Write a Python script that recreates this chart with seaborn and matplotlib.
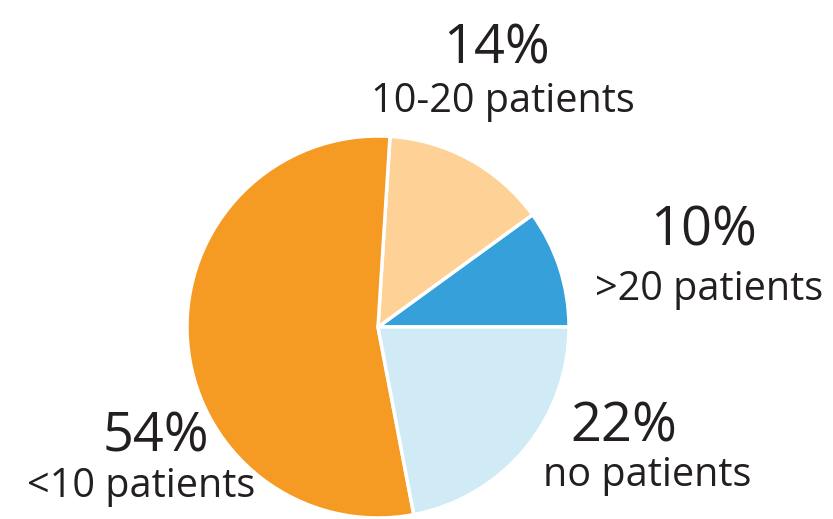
import matplotlib
matplotlib.use("Agg")
import matplotlib.pyplot as plt
import seaborn as sns

# share of sites by number of patients, counter-clockwise from 3 o'clock
categories = [">20 patients", "10-20 patients", "<10 patients", "no patients"]
shares = [10, 14, 54, 22]
colors = ["#35A0DA", "#FED197", "#F59A23", "#D0EBF5"]

# label placement in pixels from top-left: (pct x, pct baseline, name x, name baseline)
label_pos = [(704, 246, 709, 300), (497, 63, 503, 112),
             (156, 452, 141, 497), (624, 441, 647, 486)]

H = 519
sns.set_style("white")
plt.rcParams["font.family"] = ["Open Sans", "DejaVu Sans"]

fig = plt.figure(figsize=(8.33, 5.19), dpi=100)
ax = fig.add_axes([0, 0, 1, 1])

ax.pie(
    shares,
    colors=colors,
    startangle=0,
    counterclock=True,
    center=(378, H - 327),
    radius=191,
    wedgeprops=dict(edgecolor="white", linewidth=2.5),
    frame=True,
)
ax.set_xlim(0, 833)
ax.set_ylim(0, H)
ax.set_aspect("equal")
ax.axis("off")

for cat, val, (px, py, nx, ny) in zip(categories, shares, label_pos):
    ax.text(px, H - py, f"{val}%", ha="center", va="baseline",
            fontsize=39, color="#231F20")
    ax.text(nx, H - ny, cat, ha="center", va="baseline",
            fontsize=28.5, color="#231F20")

fig.savefig("out.png", dpi=100)
